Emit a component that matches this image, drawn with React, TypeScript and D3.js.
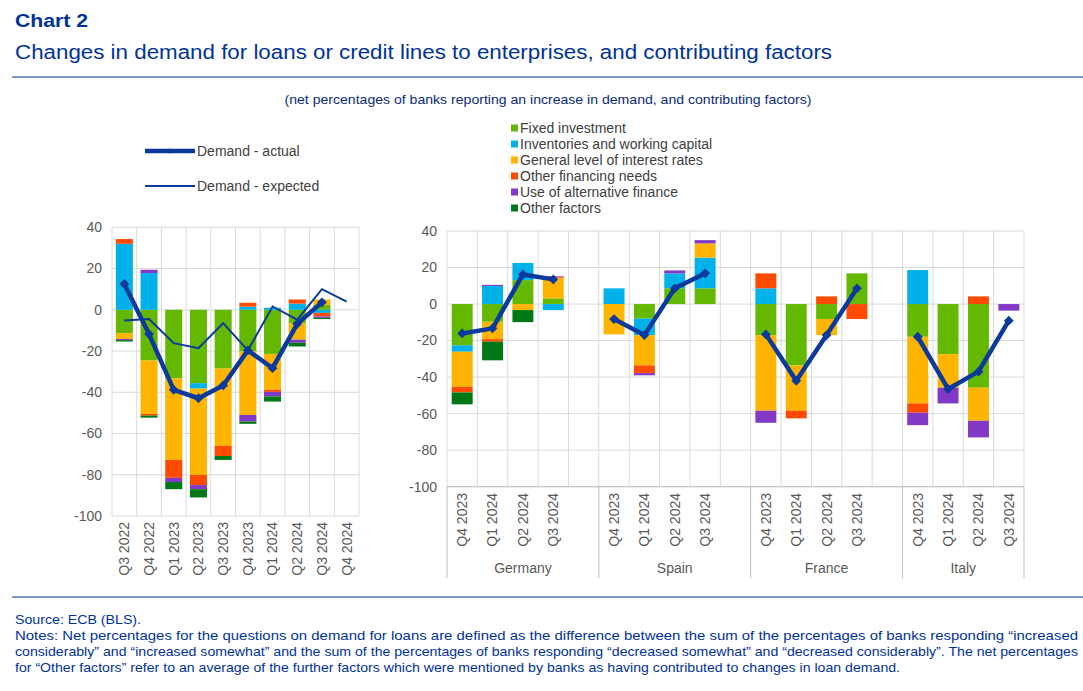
import * as d3 from 'd3';
import { useEffect, useRef } from 'react';

const W = 1083;
const H = 691;
const BLUE = '#003299';
const LINE_BLUE = '#0b3a9c';
const FONT = '"Liberation Sans", Arial, sans-serif';

const seriesNames = [
  'Fixed investment',
  'Inventories and working capital',
  'General level of interest rates',
  'Other financing needs',
  'Use of alternative finance',
  'Other factors',
];
const seriesColors = ['#65b800', '#00b1ea', '#ffb400', '#ff4b00', '#8139c6', '#007816'];

// euro area
const eaQuarters = ['Q3 2022', 'Q4 2022', 'Q1 2023', 'Q2 2023', 'Q3 2023', 'Q4 2023', 'Q1 2024', 'Q2 2024', 'Q3 2024', 'Q4 2024'];
const eaFixed = [-11.3, -24.6, -33.3, -35.6, -28.5, -20.2, -21.4, -6.5, 2.3, null];
const eaInventories = [32, 17.8, 0, -2.6, 0, 1.5, 1, 3, -1.5, null];
const eaInterest = [-2.9, -25.9, -39.5, -41.9, -37.5, -30.8, -17.4, -8, 2.7, null];
const eaOtherFin = [2.3, -0.8, -8.7, -4.9, -4.9, 1.9, -1, 2, -1.7, null];
const eaAltFin = [-0.5, 1.6, -2, -2, 0, -3.2, -2.2, -1.5, -0.7, null];
const eaOther = [-0.7, -1, -3.5, -4, -1.9, -1.1, -2.5, -1.8, -0.6, null];
const eaActual = [12.5, -11.8, -38.8, -42.9, -36.7, -19.7, -28.3, -6.8, 3.6, null];
const eaExpected = [-5.2, -4.5, -16.2, -18.6, -6.5, -19.7, 1.6, -4.8, 10, 4];

// countries
const countries = ['Germany', 'Spain', 'France', 'Italy'];
const ctryQuarters = ['Q4 2023', 'Q1 2024', 'Q2 2024', 'Q3 2024'];

const deFixed = [-22.6, -9.7, 13.1, 3.1];
const deInventories = [-3.5, 9.9, 9.4, -3.3];
const deInterest = [-19.2, -9.5, -3.3, 11.3];
const deOtherFin = [-3.1, -1.4, 0, 0.4];
const deAltFin = [0, 0.6, 0, 0.4];
const deOther = [-6.5, -10.2, -6.6, 0];
const deActual = [-16.1, -13.3, 16.2, 13.5];

const esFixed = [0, -8, 8.6, 8.6];
const esInventories = [8.6, -9, 8.2, 16.8];
const esInterest = [-16.6, -16.6, 0, 7.8];
const esOtherFin = [0, -4.2, 0, 0];
const esAltFin = [0, -1.2, 1.6, 1.8];
const esOther = [0, 0, 0, 0];
const esActual = [-8.2, -17, 8.6, 16.8];

const frFixed = [-17, -33.6, -8.2, 16.8];
const frInventories = [8.6, 0, 0, 0];
const frInterest = [-41.4, -24.8, -8.8, 0];
const frOtherFin = [8.2, -4.2, 4.2, -8.2];
const frAltFin = [-6.6, 0, 0, 0];
const frOther = [0, 0, 0, 0];
const frActual = [-16.6, -42, -17, 8.6];

const itFixed = [-17.9, -27.4, -45.8, 0];
const itInventories = [18.6, 0, 0, 0];
const itInterest = [-36.5, -18.4, -18.1, 0];
const itOtherFin = [-5.1, 0, 4.2, 0];
const itAltFin = [-6.8, -8.6, -9.1, -3.6];
const itOther = [0, 0, 0, 0];
const itActual = [-17.9, -46.5, -37, -9.1];

const countrySeries = [
  [deFixed, deInventories, deInterest, deOtherFin, deAltFin, deOther],
  [esFixed, esInventories, esInterest, esOtherFin, esAltFin, esOther],
  [frFixed, frInventories, frInterest, frOtherFin, frAltFin, frOther],
  [itFixed, itInventories, itInterest, itOtherFin, itAltFin, itOther],
];
const countryActual = [deActual, esActual, frActual, itActual];

const yTicks = [40, 20, 0, -20, -40, -60, -80, -100];

const notes = [
  'Notes: Net percentages for the questions on demand for loans are defined as the difference between the sum of the percentages of banks responding \u201cincreased',
  'considerably\u201d and \u201cincreased somewhat\u201d and the sum of the percentages of banks responding \u201cdecreased somewhat\u201d and \u201cdecreased considerably\u201d. The net percentages',
  'for \u201cOther factors\u201d refer to an average of the further factors which were mentioned by banks as having contributed to changes in loan demand.',
];
const noteWidths = [1063, 1063, 885];

type Row = { key: string; v: number[] };

function drawPanel(
  svg: d3.Selection<SVGSVGElement, unknown, null, undefined>,
  slots: string[],
  rows: Row[],
  x0: number, x1: number, yTop: number, yBot: number,
) {
  const x = d3.scaleBand().domain(slots).range([x0, x1]).padding(0);
  const y = d3.scaleLinear().domain([-100, 40]).range([yBot, yTop]);
  const g = svg.append('g');

  // grid
  g.selectAll('line.h').data(yTicks).join('line')
    .attr('x1', x0).attr('x2', x1)
    .attr('y1', (d) => y(d)).attr('y2', (d) => y(d))
    .attr('stroke', '#d9d9d9').attr('stroke-width', 1);
  const bounds = slots.map((s) => x(s)!).concat([x1]);
  g.selectAll('line.v').data(bounds).join('line')
    .attr('x1', (d) => d).attr('x2', (d) => d)
    .attr('y1', yTop).attr('y2', yBot)
    .attr('stroke', '#d9d9d9').attr('stroke-width', 1);

  // y labels
  g.selectAll('text.y').data(yTicks).join('text')
    .attr('x', x0 - 10).attr('y', (d) => y(d))
    .attr('dy', '0.35em').attr('text-anchor', 'end')
    .style('font', `14px ${FONT}`).attr('fill', '#595959')
    .text((d) => d);

  // stacked bars
  const stack = d3.stack<Row, number>()
    .keys(seriesNames.map((_, i) => i))
    .value((d, k) => d.v[k] ?? 0)
    .offset(d3.stackOffsetDiverging);
  const layers = stack(rows);
  const bw = x.bandwidth() * 0.69;
  g.selectAll('g.layer').data(layers).join('g')
    .attr('fill', (d) => seriesColors[d.key])
    .selectAll('rect').data((d) => d).join('rect')
    .attr('x', (d) => x(d.data.key)! + (x.bandwidth() - bw) / 2)
    .attr('width', bw)
    .attr('y', (d) => y(Math.max(d[0], d[1])))
    .attr('height', (d) => Math.abs(y(d[0]) - y(d[1])));

  return { x, y, g };
}

function drawActual(
  g: d3.Selection<SVGGElement, unknown, null, undefined>,
  pts: [number, number][],
) {
  g.append('path')
    .attr('d', d3.line()(pts))
    .attr('fill', 'none').attr('stroke', LINE_BLUE)
    .attr('stroke-width', 4.5).attr('stroke-linejoin', 'round');
  g.selectAll(null).data(pts).join('path')
    .attr('d', d3.symbol(d3.symbolSquare, 48)())
    .attr('transform', (d) => `translate(${d[0]},${d[1]}) rotate(45)`)
    .attr('fill', LINE_BLUE);
}

export default function App() {
  const ref = useRef<SVGSVGElement | null>(null);

  useEffect(() => {
    if (!ref.current) return;
    const svg = d3.select(ref.current);
    svg.selectAll('*').remove();

    // header
    svg.append('text').attr('x', 15).attr('y', 27).text('Chart 2')
      .attr('textLength', 73).attr('lengthAdjust', 'spacingAndGlyphs')
      .style('font', `bold 19px ${FONT}`).attr('fill', BLUE);
    svg.append('text').attr('x', 15).attr('y', 59)
      .text('Changes in demand for loans or credit lines to enterprises, and contributing factors')
      .attr('textLength', 817).attr('lengthAdjust', 'spacingAndGlyphs')
      .style('font', `20px ${FONT}`).attr('fill', BLUE);
    svg.append('line').attr('x1', 12).attr('x2', W).attr('y1', 77).attr('y2', 77)
      .attr('stroke', BLUE).attr('stroke-width', 1.2);
    svg.append('text').attr('x', 548).attr('y', 104).attr('text-anchor', 'middle')
      .text('(net percentages of banks reporting an increase in demand, and contributing factors)')
      .attr('textLength', 527).attr('lengthAdjust', 'spacingAndGlyphs')
      .style('font', `13.5px ${FONT}`).attr('fill', '#0a2a7a');

    // left legend
    svg.append('line').attr('x1', 145).attr('x2', 195).attr('y1', 151).attr('y2', 151)
      .attr('stroke', LINE_BLUE).attr('stroke-width', 4.5);
    svg.append('path').attr('d', d3.symbol(d3.symbolSquare, 14)())
      .attr('transform', 'translate(170,151) rotate(45)').attr('fill', LINE_BLUE);
    svg.append('text').attr('x', 197).attr('y', 156).text('Demand - actual')
      .style('font', `14px ${FONT}`).attr('fill', '#404040');
    svg.append('line').attr('x1', 145).attr('x2', 195).attr('y1', 186).attr('y2', 186)
      .attr('stroke', LINE_BLUE).attr('stroke-width', 2);
    svg.append('text').attr('x', 197).attr('y', 191).text('Demand - expected')
      .style('font', `14px ${FONT}`).attr('fill', '#404040');

    // right legend
    const lg = svg.append('g');
    lg.selectAll('rect').data(seriesNames).join('rect')
      .attr('x', 511).attr('y', (_, i) => 124.5 + i * 16)
      .attr('width', 7).attr('height', 7)
      .attr('fill', (_, i) => seriesColors[i]);
    lg.selectAll('text').data(seriesNames).join('text')
      .attr('x', 520).attr('y', (_, i) => 133 + i * 16)
      .text((d) => d).style('font', `14px ${FONT}`).attr('fill', '#404040');

    // left panel: euro area
    const eaSeries = [eaFixed, eaInventories, eaInterest, eaOtherFin, eaAltFin, eaOther];
    const eaRows: Row[] = eaQuarters.map((q, i) => ({ key: q, v: eaSeries.map((s) => s[i] ?? 0) }));
    const L = drawPanel(svg, eaQuarters, eaRows, 112, 359, 227.3, 516);
    const cx = (k: string) => L.x(k)! + L.x.bandwidth() / 2;
    const expPts = eaQuarters.map((q, i) => [cx(q), L.y(eaExpected[i]!)] as [number, number]);
    L.g.append('path').attr('d', d3.line()(expPts))
      .attr('fill', 'none').attr('stroke', LINE_BLUE).attr('stroke-width', 2);
    const actPts = eaQuarters
      .map((q, i) => [q, eaActual[i]] as [string, number | null])
      .filter((d) => d[1] != null)
      .map((d) => [cx(d[0]), L.y(d[1]!)] as [number, number]);
    drawActual(L.g, actPts);
    L.g.selectAll('text.xl').data(eaQuarters).join('text')
      .attr('transform', (d) => `translate(${cx(d)},522) rotate(-90)`)
      .attr('text-anchor', 'end').attr('dy', '0.35em')
      .style('font', `14px ${FONT}`).attr('fill', '#595959')
      .text((d) => d);

    // right panel: countries
    const slots = countries.flatMap((c, ci) => [
      ...ctryQuarters.map((q) => `${c}|${q}`),
      ...(ci < countries.length - 1 ? [`${c}|gap`] : []),
    ]);
    const cRows: Row[] = countries.flatMap((c, ci) =>
      ctryQuarters.map((q, qi) => ({ key: `${c}|${q}`, v: countrySeries[ci].map((s) => s[qi]) })),
    );
    const R = drawPanel(svg, slots, cRows, 447, 1024, 231, 486.7);
    const rcx = (k: string) => R.x(k)! + R.x.bandwidth() / 2;
    countries.forEach((c, ci) => {
      const pts = ctryQuarters.map((q, qi) => [rcx(`${c}|${q}`), R.y(countryActual[ci][qi])] as [number, number]);
      drawActual(R.g, pts);
    });
    R.g.selectAll('text.xl').data(cRows).join('text')
      .attr('transform', (d) => `translate(${rcx(d.key)},493) rotate(-90)`)
      .attr('text-anchor', 'end').attr('dy', '0.35em')
      .style('font', `14px ${FONT}`).attr('fill', '#595959')
      .text((d) => d.key.split('|')[1]);
    // group separators and labels
    const groupEdges = countries.map((c) => R.x(`${c}|${ctryQuarters[0]}`)!).concat([1024]);
    R.g.selectAll('line.sep').data(groupEdges).join('line')
      .attr('x1', (d) => d).attr('x2', (d) => d)
      .attr('y1', 486.7).attr('y2', 578)
      .attr('stroke', '#bfbfbf').attr('stroke-width', 1);
    R.g.append('line').attr('x1', 447).attr('x2', 1024).attr('y1', 486.7).attr('y2', 486.7)
      .attr('stroke', '#bfbfbf');
    R.g.selectAll('text.grp').data(countries).join('text')
      .attr('x', (_, i) => (groupEdges[i] + groupEdges[i + 1]) / 2)
      .attr('y', 573).attr('text-anchor', 'middle')
      .style('font', `14px ${FONT}`).attr('fill', '#595959')
      .text((d) => d);

    // footer
    svg.append('line').attr('x1', 12).attr('x2', W).attr('y1', 597).attr('y2', 597)
      .attr('stroke', BLUE).attr('stroke-width', 1.2);
    svg.append('text').attr('x', 15).attr('y', 624).text('Source: ECB (BLS).')
      .attr('textLength', 126).attr('lengthAdjust', 'spacingAndGlyphs')
      .style('font', `13.5px ${FONT}`).attr('fill', BLUE);
    svg.selectAll('text.note').data(notes).join('text')
      .attr('x', 15).attr('y', (_, i) => 640 + i * 16)
      .attr('textLength', (_, i) => noteWidths[i]).attr('lengthAdjust', 'spacingAndGlyphs')
      .text((d) => d).style('font', `13.5px ${FONT}`).attr('fill', BLUE);
  }, []);

  return (
    <div style={{ position: 'absolute', left: 0, top: 0, width: W, height: H, background: '#fff' }}>
      <svg ref={ref} width={W} height={H} />
    </div>
  );
}
